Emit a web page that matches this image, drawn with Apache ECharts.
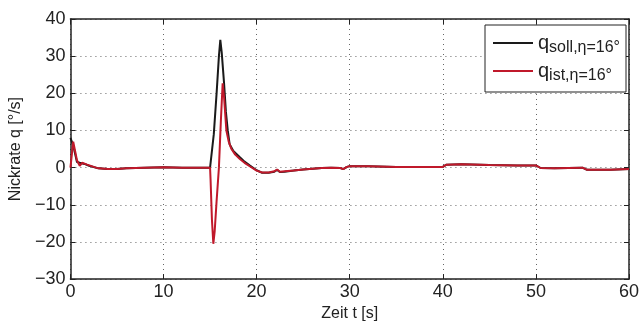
<!DOCTYPE html>
<html><head><meta charset="utf-8">
<script src="https://cdn.jsdelivr.net/npm/echarts@6/dist/echarts.min.js"></script>
<style>html,body{margin:0;padding:0;background:#fff}#c{width:642px;height:327px}</style>
</head><body><div id="c"></div>
<script>
var sollT = [0,0.3,0.7,1.0,1.5,2,3,4,5,6,8,10,12,15,15.1,15.4,15.7,15.95,16.1,16.25,16.5,16.7,16.9,17.1,17.5,18.2,18.7,19.25,20,20.6,21.3,21.9,22.2,22.5,23,24,25,26,27,28,29,29.3,29.7,30,32,35,38,40,40.4,42,45,48,50,50.5,52,55,55.5,58,60];
var sollQ = [8,6,1.5,1.3,1.0,0.5,-0.2,-0.4,-0.35,-0.2,0,0.1,0,0,0.3,9,20,30,34.4,31,22.8,15,10,6.3,4.5,2.8,1.6,0.6,-0.7,-1.4,-1.4,-1.1,-0.6,-1.2,-1.1,-0.8,-0.5,-0.3,-0.1,0,-0.1,-0.4,0.2,0.4,0.4,0.2,0.2,0.2,0.8,0.9,0.7,0.6,0.6,-0.1,-0.2,0,-0.6,-0.6,-0.4];
var istT = [0,0.3,0.7,1.0,1.25,1.8,2.5,3,4,5,6,8,10,12,15,15.05,15.2,15.35,15.5,15.7,15.95,16.15,16.35,16.5,16.75,17.0,17.3,17.7,18.2,18.7,19.3,20,20.6,21.3,21.9,22.2,22.5,23,24,25,26,27,28,29,29.3,29.7,30,32,35,38,40,40.4,42,45,48,50,50.5,52,55,55.5,58,60];
var istQ = [0,7,2,0.5,1.3,0.8,0.2,-0.2,-0.4,-0.35,-0.2,0,0.1,0,0,-3,-14,-20.5,-17,-9,0,12,22.7,19,10,7,5,3.5,2.3,1.3,0.3,-0.8,-1.3,-1.3,-1.0,-0.5,-1.1,-1.0,-0.8,-0.5,-0.3,-0.1,0,-0.1,-0.4,0.2,0.4,0.4,0.2,0.2,0.2,0.8,0.9,0.7,0.6,0.6,-0.1,-0.2,0,-0.6,-0.6,-0.4];
var xTicks = {min:0,max:60,step:10};
var yTicks = {min:-30,max:40,step:10};

function pairs(t,v){return t.map(function(x,i){return [x,v[i]];});}
var font = 'Liberation Sans, Arial, sans-serif';
function minus(v){return String(v).replace('-','\u2212');}
var split = {show:true,lineStyle:{color:'#666',type:[1,4],width:1}};
var axLine = {show:true,onZero:false,lineStyle:{color:'#222',width:1.5}};
var tick = {show:true,inside:true,length:5,lineStyle:{color:'#222',width:1}};
var chart = echarts.init(document.getElementById('c'));
chart.setOption({
  animation:false,
  textStyle:{fontFamily:font},
  grid:{left:70,right:11,top:19,bottom:43},
  xAxis:[
    {type:'value',min:xTicks.min,max:xTicks.max,interval:xTicks.step,position:'bottom',
     name:'Zeit t [s]',nameLocation:'middle',nameGap:25,nameTextStyle:{fontSize:16,color:'#222',fontFamily:font},
     axisLine:axLine,axisTick:tick,splitLine:split,
     axisLabel:{fontSize:18,color:'#222',margin:4,fontFamily:font,formatter:minus}},
    {type:'value',min:xTicks.min,max:xTicks.max,interval:xTicks.step,position:'top',
     axisLine:axLine,axisTick:tick,splitLine:{show:false},axisLabel:{show:false}}
  ],
  yAxis:[
    {type:'value',min:yTicks.min,max:yTicks.max,interval:yTicks.step,position:'left',
     name:'Nickrate q [°/s]',nameLocation:'middle',nameGap:45,nameTextStyle:{fontSize:16,color:'#222',fontFamily:font},
     axisLine:axLine,axisTick:tick,splitLine:split,
     axisLabel:{fontSize:18,color:'#222',margin:5,fontFamily:font,formatter:minus}},
    {type:'value',min:yTicks.min,max:yTicks.max,interval:yTicks.step,position:'right',
     axisLine:axLine,axisTick:tick,splitLine:{show:false},axisLabel:{show:false}}
  ],
  legend:{
    orient:'vertical',left:485,top:25,
    backgroundColor:'#fff',borderColor:'#222',borderWidth:1,
    padding:[8,6,8,8],itemGap:5,itemWidth:40,itemHeight:2,icon:'rect',
    data:['soll','ist'],
    formatter:function(n){return '{q|q}{s|'+n+',η=16°}';},
    textStyle:{rich:{
      q:{fontSize:20,color:'#222',fontFamily:font,lineHeight:26,verticalAlign:'middle'},
      s:{fontSize:16,color:'#222',fontFamily:font,lineHeight:14,verticalAlign:'bottom'}
    }}
  },
  series:[
    {name:'soll',type:'line',data:pairs(sollT,sollQ),showSymbol:false,lineStyle:{color:'#1a1a1a',width:2},itemStyle:{color:'#1a1a1a'},z:2},
    {name:'ist',type:'line',data:pairs(istT,istQ),showSymbol:false,lineStyle:{color:'#c0192b',width:2},itemStyle:{color:'#c0192b'},z:3}
  ]
});
</script></body></html>
